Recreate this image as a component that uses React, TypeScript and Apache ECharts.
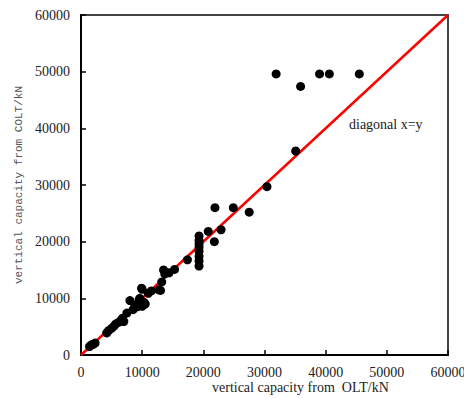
import React, { useEffect, useRef } from "react";
import * as echarts from "echarts";

// Capacity pairs: [from OLT, from COLT], kN
const olt: number[] = [
  1400, 1700, 2000, 2300,
  4200, 4500, 5000, 5400, 5700, 6200, 6600, 7000, 6800, 7500,
  8000, 8500, 8800, 9200, 9500, 10000, 10300, 10500, 9600,
  9900, 10000, 11000, 11500, 12700,
  13000, 13200, 13500, 13700, 14400, 15300,
  17400,
  19300, 19300, 19300, 19300, 19300, 19300, 19300, 19300,
  20800, 21800, 22900, 21900, 24900, 27500, 30400,
  35100, 31900, 35900, 39000, 40600, 45500,
];
const colt: number[] = [
  1500, 1800, 1900, 2100,
  3900, 4300, 4700, 5100, 5500, 5800, 6200, 5900, 6500, 7400,
  9600, 8000, 8800, 8500, 9600, 8600, 9300, 9000, 10000,
  11800, 11600, 10900, 11300, 11500,
  11400, 12900, 15000, 14300, 14500, 15100,
  16800,
  21000, 20200, 19600, 19000, 18300, 17400, 16600, 15700,
  21800, 20000, 22100, 26000, 26000, 25200, 29700,
  36000, 49600, 47400, 49600, 49600, 49600,
];
const diagonal: number[][] = [
  [0, 0],
  [60000, 60000],
];
const axisMin = 0;
const axisMax = 60000;
const axisStep = 10000;

const serif = "'Liberation Serif', 'Times New Roman', serif";
const mono = "'Liberation Mono', 'Courier New', monospace";
const plain = (v: number) => String(v);

export default function App() {
  const ref = useRef<HTMLDivElement>(null);

  useEffect(() => {
    if (!ref.current) return;
    const chart = echarts.init(ref.current, undefined, { renderer: "svg" });
    const points = olt.map((x, i) => [x, colt[i]]);
    chart.setOption({
      animation: false,
      backgroundColor: "#fff",
      textStyle: { fontFamily: serif },
      grid: {
        left: 81,
        top: 15,
        width: 367,
        height: 340,
        containLabel: false,
        outerBoundsMode: "none",
        show: true,
        borderColor: "#444",
        borderWidth: 2,
        backgroundColor: "transparent",
      },
      xAxis: {
        type: "value",
        min: axisMin,
        max: axisMax,
        interval: axisStep,
        axisLine: { show: true, lineStyle: { color: "#000", width: 2 } },
        axisTick: { show: true, inside: true, length: 5, lineStyle: { color: "#000", width: 1.5 } },
        splitLine: { show: false },
        axisLabel: {
          margin: 10,
          color: "#222",
          fontFamily: serif,
          fontSize: 14,
          lineHeight: 14,
          formatter: plain,
        },
      },
      yAxis: {
        type: "value",
        min: axisMin,
        max: axisMax,
        interval: axisStep,
        name: "vertical capacity from COLT/kN",
        nameLocation: "middle",
        nameGap: 55,
        nameTextStyle: {
          color: "#555",
          fontFamily: mono,
          fontSize: 11,
        },
        axisLine: { show: true, lineStyle: { color: "#000", width: 2 } },
        axisTick: { show: true, inside: true, length: 5, lineStyle: { color: "#000", width: 1.5 } },
        splitLine: { show: false },
        axisLabel: {
          margin: 11,
          color: "#222",
          fontFamily: serif,
          fontSize: 14,
          formatter: plain,
        },
      },
      graphic: [
        {
          type: "text",
          left: 212,
          top: 380,
          style: {
            text: "vertical capacity from  OLT/kN",
            fill: "#222",
            font: `14px ${serif}`,
          },
        },
        {
          type: "text",
          left: 349,
          top: 117,
          style: {
            text: "diagonal x=y",
            fill: "#222",
            font: `14px ${serif}`,
          },
        },
      ],
      series: [
        {
          type: "line",
          data: diagonal,
          symbol: "none",
          lineStyle: { color: "#ff0000", width: 2.5 },
          z: 2,
        },
        {
          type: "scatter",
          data: points,
          symbol: "circle",
          symbolSize: 9,
          itemStyle: { color: "#000", opacity: 1 },
          z: 3,
        },
      ],
    });
    return () => chart.dispose();
  }, []);

  return (
    <div
      ref={ref}
      style={{ position: "fixed", left: 0, top: 0, width: 464, height: 399 }}
    />
  );
}
